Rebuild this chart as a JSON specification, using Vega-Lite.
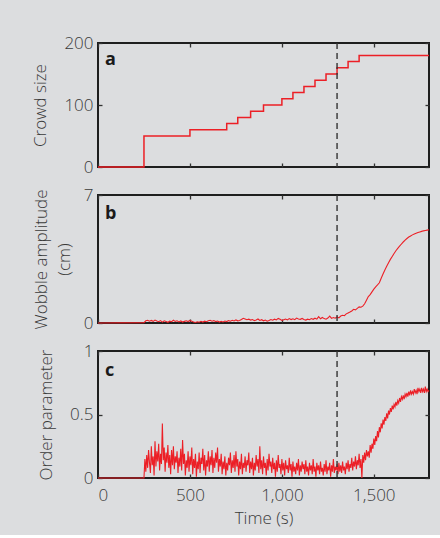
{
  "$schema": "https://vega.github.io/schema/vega-lite/v6.json",
  "background": "#dcdddf",
  "padding": {"left": 30, "top": 33, "right": 7, "bottom": 8},
  "bounds": "flush",
  "spacing": 28,
  "config": {
    "view": {"stroke": "#1e1e1e", "strokeWidth": 2},
    "axis": {"domain": false, "grid": false, "tickSize": -4, "tickColor": "#333333", "tickWidth": 1.3,
      "labelFont": "Open Sans", "labelFontSize": 17, "labelFontWeight": 300, "labelColor": "#3a3a3a", "labelPadding": 9,
      "titleFont": "Open Sans", "titleFontSize": 17, "titleFontWeight": 300, "titleColor": "#3a3a3a"},
    "axisX": {"labelPadding": 13, "titlePadding": 7},
    "axisY": {"titlePadding": 14},
    "text": {"font": "Open Sans"}
  },
  "datasets": {
    "crowd": [
      {"t":0,"n":0},{"t":250,"n":50},{"t":500,"n":60},{"t":700,"n":70},{"t":760,"n":80},{"t":830,"n":90},
      {"t":900,"n":100},{"t":1000,"n":110},{"t":1060,"n":120},{"t":1120,"n":130},{"t":1180,"n":140},
      {"t":1240,"n":150},{"t":1300,"n":160},{"t":1360,"n":170},{"t":1420,"n":180},{"t":1800,"n":180}
    ],
    "wobble": [
      {"t":0,"w":0},{"t":250,"w":0.02},{"t":260,"w":0.12},{"t":270,"w":0.15},{"t":280,"w":0.10},{"t":290,"w":0.14},{"t":300,"w":0.09},
      {"t":310,"w":0.16},{"t":320,"w":0.11},{"t":330,"w":0.07},{"t":340,"w":0.13},{"t":350,"w":0.05},{"t":360,"w":0.12},{"t":370,"w":0.08},
      {"t":380,"w":0.04},{"t":390,"w":0.10},{"t":400,"w":0.07},{"t":410,"w":0.15},{"t":420,"w":0.09},{"t":430,"w":0.12},{"t":440,"w":0.06},
      {"t":450,"w":0.11},{"t":460,"w":0.05},{"t":470,"w":0.09},{"t":480,"w":0.12},{"t":490,"w":0.08},{"t":500,"w":0.14},{"t":510,"w":0.10},
      {"t":520,"w":0.06},{"t":530,"w":0.03},{"t":540,"w":0.07},{"t":550,"w":0.04},{"t":560,"w":0.09},{"t":570,"w":0.05},{"t":580,"w":0.10},
      {"t":590,"w":0.07},{"t":600,"w":0.12},{"t":610,"w":0.15},{"t":620,"w":0.10},{"t":630,"w":0.13},{"t":640,"w":0.08},{"t":650,"w":0.11},
      {"t":660,"w":0.05},{"t":670,"w":0.09},{"t":680,"w":0.06},{"t":690,"w":0.11},{"t":700,"w":0.08},{"t":710,"w":0.13},{"t":720,"w":0.10},
      {"t":730,"w":0.15},{"t":740,"w":0.11},{"t":750,"w":0.17},{"t":760,"w":0.12},{"t":770,"w":0.14},{"t":780,"w":0.19},{"t":790,"w":0.26},
      {"t":800,"w":0.22},{"t":810,"w":0.18},{"t":820,"w":0.21},{"t":830,"w":0.16},{"t":840,"w":0.19},{"t":850,"w":0.13},{"t":860,"w":0.17},
      {"t":870,"w":0.22},{"t":880,"w":0.14},{"t":890,"w":0.18},{"t":900,"w":0.12},{"t":910,"w":0.16},{"t":920,"w":0.10},{"t":930,"w":0.14},
      {"t":940,"w":0.19},{"t":950,"w":0.15},{"t":960,"w":0.21},{"t":970,"w":0.17},{"t":980,"w":0.25},{"t":990,"w":0.20},{"t":1000,"w":0.14},
      {"t":1010,"w":0.18},{"t":1020,"w":0.22},{"t":1030,"w":0.17},{"t":1040,"w":0.24},{"t":1050,"w":0.19},{"t":1060,"w":0.23},{"t":1070,"w":0.18},
      {"t":1080,"w":0.27},{"t":1090,"w":0.22},{"t":1100,"w":0.20},{"t":1110,"w":0.25},{"t":1120,"w":0.19},{"t":1130,"w":0.16},{"t":1140,"w":0.21},
      {"t":1150,"w":0.18},{"t":1160,"w":0.24},{"t":1170,"w":0.20},{"t":1180,"w":0.26},{"t":1190,"w":0.21},{"t":1200,"w":0.35},{"t":1210,"w":0.23},
      {"t":1220,"w":0.30},{"t":1230,"w":0.24},{"t":1240,"w":0.21},{"t":1250,"w":0.27},{"t":1260,"w":0.38},{"t":1270,"w":0.25},{"t":1280,"w":0.30},
      {"t":1290,"w":0.26},{"t":1300,"w":0.33},{"t":1310,"w":0.28},{"t":1320,"w":0.38},{"t":1330,"w":0.42},{"t":1340,"w":0.40},{"t":1350,"w":0.50},
      {"t":1360,"w":0.55},{"t":1370,"w":0.60},{"t":1380,"w":0.66},{"t":1390,"w":0.75},{"t":1400,"w":0.72},{"t":1410,"w":0.80},{"t":1420,"w":0.88},
      {"t":1430,"w":0.86},{"t":1440,"w":0.92},{"t":1450,"w":1.05},{"t":1460,"w":1.25},{"t":1470,"w":1.45},{"t":1480,"w":1.55},{"t":1490,"w":1.70},
      {"t":1500,"w":1.85},{"t":1510,"w":1.98},{"t":1520,"w":2.08},{"t":1530,"w":2.20},{"t":1540,"w":2.45},{"t":1550,"w":2.68},{"t":1560,"w":2.90},
      {"t":1570,"w":3.10},{"t":1580,"w":3.30},{"t":1590,"w":3.48},{"t":1600,"w":3.64},{"t":1610,"w":3.80},{"t":1620,"w":3.95},{"t":1630,"w":4.08},
      {"t":1640,"w":4.20},{"t":1650,"w":4.32},{"t":1660,"w":4.43},{"t":1670,"w":4.53},{"t":1680,"w":4.62},{"t":1690,"w":4.70},{"t":1700,"w":4.76},
      {"t":1710,"w":4.82},{"t":1720,"w":4.87},{"t":1730,"w":4.91},{"t":1740,"w":4.95},{"t":1750,"w":4.98},{"t":1760,"w":5.01},{"t":1770,"w":5.04},
      {"t":1780,"w":5.06},{"t":1790,"w":5.08},{"t":1800,"w":5.10}
    ],
    "order": [
      {"t":0,"o":0},{"t":250,"o":0},{"t":255,"o":0.15},{"t":260,"o":0.05},{"t":265,"o":0.18},{"t":270,"o":0.08},{"t":275,"o":0.22},{"t":280,"o":0.12},
      {"t":285,"o":0.04},{"t":290,"o":0.25},{"t":295,"o":0.10},{"t":300,"o":0.17},{"t":305,"o":0.02},{"t":310,"o":0.29},{"t":315,"o":0.09},
      {"t":320,"o":0.21},{"t":325,"o":0.13},{"t":330,"o":0.27},{"t":335,"o":0.06},{"t":340,"o":0.19},{"t":345,"o":0.11},{"t":350,"o":0.43},
      {"t":355,"o":0.14},{"t":360,"o":0.24},{"t":365,"o":0.05},{"t":370,"o":0.20},{"t":375,"o":0.12},{"t":380,"o":0.26},{"t":385,"o":0.08},
      {"t":390,"o":0.18},{"t":395,"o":0.03},{"t":400,"o":0.22},{"t":405,"o":0.10},{"t":410,"o":0.25},{"t":415,"o":0.07},{"t":420,"o":0.17},
      {"t":425,"o":0.12},{"t":430,"o":0.21},{"t":435,"o":0.04},{"t":440,"o":0.16},{"t":445,"o":0.09},{"t":450,"o":0.23},{"t":455,"o":0.06},
      {"t":460,"o":0.30},{"t":465,"o":0.11},{"t":470,"o":0.19},{"t":475,"o":0.02},{"t":480,"o":0.14},{"t":485,"o":0.08},{"t":490,"o":0.21},
      {"t":495,"o":0.05},{"t":500,"o":0.17},{"t":505,"o":0.10},{"t":510,"o":0.24},{"t":515,"o":0.03},{"t":520,"o":0.15},{"t":525,"o":0.08},
      {"t":530,"o":0.19},{"t":535,"o":0.01},{"t":540,"o":0.13},{"t":545,"o":0.07},{"t":550,"o":0.20},{"t":555,"o":0.04},{"t":560,"o":0.16},
      {"t":565,"o":0.11},{"t":570,"o":0.23},{"t":575,"o":0.06},{"t":580,"o":0.18},{"t":585,"o":0.02},{"t":590,"o":0.14},{"t":595,"o":0.09},
      {"t":600,"o":0.21},{"t":605,"o":0.05},{"t":610,"o":0.17},{"t":615,"o":0.10},{"t":620,"o":0.22},{"t":625,"o":0.04},{"t":630,"o":0.16},
      {"t":635,"o":0.08},{"t":640,"o":0.20},{"t":645,"o":0.12},{"t":650,"o":0.24},{"t":655,"o":0.05},{"t":660,"o":0.15},{"t":665,"o":0.09},
      {"t":670,"o":0.19},{"t":675,"o":0.03},{"t":680,"o":0.13},{"t":685,"o":0.07},{"t":690,"o":0.17},{"t":695,"o":0.02},{"t":700,"o":0.12},
      {"t":705,"o":0.06},{"t":710,"o":0.16},{"t":715,"o":0.10},{"t":720,"o":0.20},{"t":725,"o":0.04},{"t":730,"o":0.14},{"t":735,"o":0.08},
      {"t":740,"o":0.18},{"t":745,"o":0.05},{"t":750,"o":0.21},{"t":755,"o":0.09},{"t":760,"o":0.15},{"t":765,"o":0.02},{"t":770,"o":0.13},
      {"t":775,"o":0.07},{"t":780,"o":0.19},{"t":785,"o":0.03},{"t":790,"o":0.12},{"t":795,"o":0.08},{"t":800,"o":0.17},{"t":805,"o":0.05},
      {"t":810,"o":0.14},{"t":815,"o":0.10},{"t":820,"o":0.20},{"t":825,"o":0.04},{"t":830,"o":0.13},{"t":835,"o":0.07},{"t":840,"o":0.16},
      {"t":845,"o":0.02},{"t":850,"o":0.12},{"t":855,"o":0.06},{"t":860,"o":0.18},{"t":865,"o":0.09},{"t":870,"o":0.15},{"t":875,"o":0.04},
      {"t":880,"o":0.25},{"t":885,"o":0.07},{"t":890,"o":0.14},{"t":895,"o":0.03},{"t":900,"o":0.17},{"t":905,"o":0.08},{"t":910,"o":0.12},
      {"t":915,"o":0.02},{"t":920,"o":0.15},{"t":925,"o":0.06},{"t":930,"o":0.19},{"t":935,"o":0.09},{"t":940,"o":0.13},{"t":945,"o":0.04},
      {"t":950,"o":0.16},{"t":955,"o":0.07},{"t":960,"o":0.12},{"t":965,"o":0.01},{"t":970,"o":0.14},{"t":975,"o":0.05},{"t":980,"o":0.18},
      {"t":985,"o":0.08},{"t":990,"o":0.11},{"t":995,"o":0.03},{"t":1000,"o":0.15},{"t":1005,"o":0.06},{"t":1010,"o":0.12},{"t":1015,"o":0.02},
      {"t":1020,"o":0.14},{"t":1025,"o":0.07},{"t":1030,"o":0.10},{"t":1035,"o":0.04},{"t":1040,"o":0.16},{"t":1045,"o":0.06},{"t":1050,"o":0.11},
      {"t":1055,"o":0.01},{"t":1060,"o":0.13},{"t":1065,"o":0.05},{"t":1070,"o":0.09},{"t":1075,"o":0.03},{"t":1080,"o":0.12},{"t":1085,"o":0.06},
      {"t":1090,"o":0.15},{"t":1095,"o":0.02},{"t":1100,"o":0.10},{"t":1105,"o":0.05},{"t":1110,"o":0.13},{"t":1115,"o":0.07},{"t":1120,"o":0.11},
      {"t":1125,"o":0.03},{"t":1130,"o":0.14},{"t":1135,"o":0.05},{"t":1140,"o":0.09},{"t":1145,"o":0.02},{"t":1150,"o":0.12},{"t":1155,"o":0.06},
      {"t":1160,"o":0.10},{"t":1165,"o":0.03},{"t":1170,"o":0.15},{"t":1175,"o":0.05},{"t":1180,"o":0.09},{"t":1185,"o":0.01},{"t":1190,"o":0.12},
      {"t":1195,"o":0.06},{"t":1200,"o":0.10},{"t":1205,"o":0.03},{"t":1210,"o":0.13},{"t":1215,"o":0.05},{"t":1220,"o":0.08},{"t":1225,"o":0.02},
      {"t":1230,"o":0.11},{"t":1235,"o":0.05},{"t":1240,"o":0.14},{"t":1245,"o":0.03},{"t":1250,"o":0.09},{"t":1255,"o":0.06},{"t":1260,"o":0.12},
      {"t":1265,"o":0.01},{"t":1270,"o":0.10},{"t":1275,"o":0.05},{"t":1280,"o":0.15},{"t":1285,"o":0.04},{"t":1290,"o":0.09},{"t":1295,"o":0.06},
      {"t":1300,"o":0.11},{"t":1305,"o":0.03},{"t":1310,"o":0.12},{"t":1315,"o":0.05},{"t":1320,"o":0.10},{"t":1325,"o":0.04},{"t":1330,"o":0.13},
      {"t":1335,"o":0.06},{"t":1340,"o":0.09},{"t":1345,"o":0.03},{"t":1350,"o":0.12},{"t":1355,"o":0.07},{"t":1360,"o":0.14},{"t":1365,"o":0.05},
      {"t":1370,"o":0.11},{"t":1375,"o":0.08},{"t":1380,"o":0.16},{"t":1385,"o":0.06},{"t":1390,"o":0.13},{"t":1395,"o":0.09},{"t":1400,"o":0.17},
      {"t":1405,"o":0.07},{"t":1410,"o":0.14},{"t":1415,"o":0.10},{"t":1420,"o":0.19},{"t":1425,"o":0.08},{"t":1430,"o":0.15},{"t":1435,"o":0.00},
      {"t":1440,"o":0.18},{"t":1445,"o":0.12},{"t":1450,"o":0.20},{"t":1455,"o":0.14},{"t":1460,"o":0.22},{"t":1465,"o":0.17},{"t":1470,"o":0.21},
      {"t":1475,"o":0.16},{"t":1480,"o":0.26},{"t":1485,"o":0.20},{"t":1490,"o":0.27},{"t":1495,"o":0.23},{"t":1500,"o":0.31},{"t":1505,"o":0.26},
      {"t":1510,"o":0.33},{"t":1515,"o":0.29},{"t":1520,"o":0.37},{"t":1525,"o":0.32},{"t":1530,"o":0.40},{"t":1535,"o":0.36},{"t":1540,"o":0.43},
      {"t":1545,"o":0.39},{"t":1550,"o":0.46},{"t":1555,"o":0.42},{"t":1560,"o":0.48},{"t":1565,"o":0.45},{"t":1570,"o":0.51},{"t":1575,"o":0.47},
      {"t":1580,"o":0.53},{"t":1585,"o":0.50},{"t":1590,"o":0.55},{"t":1595,"o":0.52},{"t":1600,"o":0.57},{"t":1605,"o":0.54},{"t":1610,"o":0.58},
      {"t":1615,"o":0.56},{"t":1620,"o":0.60},{"t":1625,"o":0.57},{"t":1630,"o":0.61},{"t":1635,"o":0.59},{"t":1640,"o":0.63},{"t":1645,"o":0.60},
      {"t":1650,"o":0.64},{"t":1655,"o":0.62},{"t":1660,"o":0.65},{"t":1665,"o":0.62},{"t":1670,"o":0.66},{"t":1675,"o":0.64},{"t":1680,"o":0.67},
      {"t":1685,"o":0.64},{"t":1690,"o":0.68},{"t":1695,"o":0.65},{"t":1700,"o":0.69},{"t":1705,"o":0.66},{"t":1710,"o":0.68},{"t":1715,"o":0.66},
      {"t":1720,"o":0.70},{"t":1725,"o":0.67},{"t":1730,"o":0.69},{"t":1735,"o":0.66},{"t":1740,"o":0.71},{"t":1745,"o":0.68},{"t":1750,"o":0.70},
      {"t":1755,"o":0.67},{"t":1760,"o":0.71},{"t":1765,"o":0.68},{"t":1770,"o":0.70},{"t":1775,"o":0.67},{"t":1780,"o":0.72},{"t":1785,"o":0.68},
      {"t":1790,"o":0.70},{"t":1795,"o":0.68},{"t":1800,"o":0.69}
    ],
    "marker": [{"t":1300}]
  },
  "vconcat": [
    {
      "width": 331, "height": 124,
      "layer": [
        {
          "data": {"name": "crowd"},
          "mark": {"type": "line", "interpolate": "step-after", "color": "#ec1f26", "strokeWidth": 1.5},
          "encoding": {
            "x": {"field": "t", "type": "quantitative", "scale": {"domain": [0, 1800], "nice": false},
              "axis": {"orient": "bottom", "values": [0, 500, 1000, 1500], "labels": false, "title": null}},
            "y": {"field": "n", "type": "quantitative", "scale": {"domain": [0, 200], "nice": false},
              "axis": {"orient": "left", "values": [0, 100, 200], "format": ".0f", "title": "Crowd size"}}
          }
        },
        {
          "data": {"name": "marker"},
          "mark": {"type": "rule", "color": "#333333", "strokeWidth": 1.4, "strokeDash": [6, 4]},
          "encoding": {
            "x": {"field": "t", "type": "quantitative",
              "axis": {"orient": "top", "values": [0, 500, 1000, 1500], "labels": false, "title": null}}
          }
        },
        {
          "data": {"values": [{"t": 38, "y": 172, "label": "a"}]},
          "mark": {"type": "text", "align": "left", "baseline": "middle", "fontWeight": "bold", "fontSize": 18, "color": "#1a1a1a"},
          "encoding": {
            "x": {"field": "t", "type": "quantitative", "axis": null},
            "y": {"field": "y", "type": "quantitative",
              "axis": {"orient": "right", "values": [0, 100, 200], "labels": false, "title": null}},
            "text": {"field": "label"}
          }
        }
      ],
      "resolve": {"axis": {"x": "independent", "y": "independent"}}
    },
    {
      "width": 331, "height": 128,
      "layer": [
        {
          "data": {"name": "wobble"},
          "mark": {"type": "line", "color": "#ec1f26", "strokeWidth": 1.1},
          "encoding": {
            "x": {"field": "t", "type": "quantitative", "scale": {"domain": [0, 1800], "nice": false},
              "axis": {"orient": "bottom", "values": [0, 500, 1000, 1500], "labels": false, "title": null}},
            "y": {"field": "w", "type": "quantitative", "scale": {"domain": [0, 7], "nice": false},
              "axis": {"orient": "left", "values": [0, 7], "format": ".0f", "title": ["Wobble amplitude", "(cm)"], "titlePadding": 10, "titleLineHeight": 23}}
          }
        },
        {
          "data": {"name": "marker"},
          "mark": {"type": "rule", "color": "#333333", "strokeWidth": 1.4, "strokeDash": [6, 4]},
          "encoding": {
            "x": {"field": "t", "type": "quantitative",
              "axis": {"orient": "top", "values": [0, 500, 1000, 1500], "labels": false, "title": null}}
          }
        },
        {
          "data": {"values": [{"t": 38, "y": 5.95, "label": "b"}]},
          "mark": {"type": "text", "align": "left", "baseline": "middle", "fontWeight": "bold", "fontSize": 18, "color": "#1a1a1a"},
          "encoding": {
            "x": {"field": "t", "type": "quantitative", "axis": null},
            "y": {"field": "y", "type": "quantitative",
              "axis": {"orient": "right", "values": [0, 7], "labels": false, "title": null}},
            "text": {"field": "label"}
          }
        }
      ],
      "resolve": {"axis": {"x": "independent", "y": "independent"}}
    },
    {
      "width": 331, "height": 127,
      "layer": [
        {
          "data": {"name": "order"},
          "mark": {"type": "line", "color": "#ec1f26", "strokeWidth": 1.1},
          "encoding": {
            "x": {"field": "t", "type": "quantitative", "scale": {"domain": [0, 1800], "nice": false},
              "axis": {"orient": "bottom", "values": [0, 500, 1000, 1500], "format": ",.0f", "title": "Time (s)"}},
            "y": {"field": "o", "type": "quantitative", "scale": {"domain": [0, 1], "nice": false},
              "axis": {"orient": "left", "values": [0, 0.5, 1], "format": ".1~f", "title": "Order parameter"}}
          }
        },
        {
          "data": {"name": "marker"},
          "mark": {"type": "rule", "color": "#333333", "strokeWidth": 1.4, "strokeDash": [6, 4]},
          "encoding": {
            "x": {"field": "t", "type": "quantitative",
              "axis": {"orient": "top", "values": [0, 500, 1000, 1500], "labels": false, "title": null}}
          }
        },
        {
          "data": {"values": [{"t": 38, "y": 0.84, "label": "c"}]},
          "mark": {"type": "text", "align": "left", "baseline": "middle", "fontWeight": "bold", "fontSize": 18, "color": "#1a1a1a"},
          "encoding": {
            "x": {"field": "t", "type": "quantitative", "axis": null},
            "y": {"field": "y", "type": "quantitative",
              "axis": {"orient": "right", "values": [0, 0.5, 1], "labels": false, "title": null}},
            "text": {"field": "label"}
          }
        }
      ],
      "resolve": {"axis": {"x": "independent", "y": "independent"}}
    }
  ]
}
